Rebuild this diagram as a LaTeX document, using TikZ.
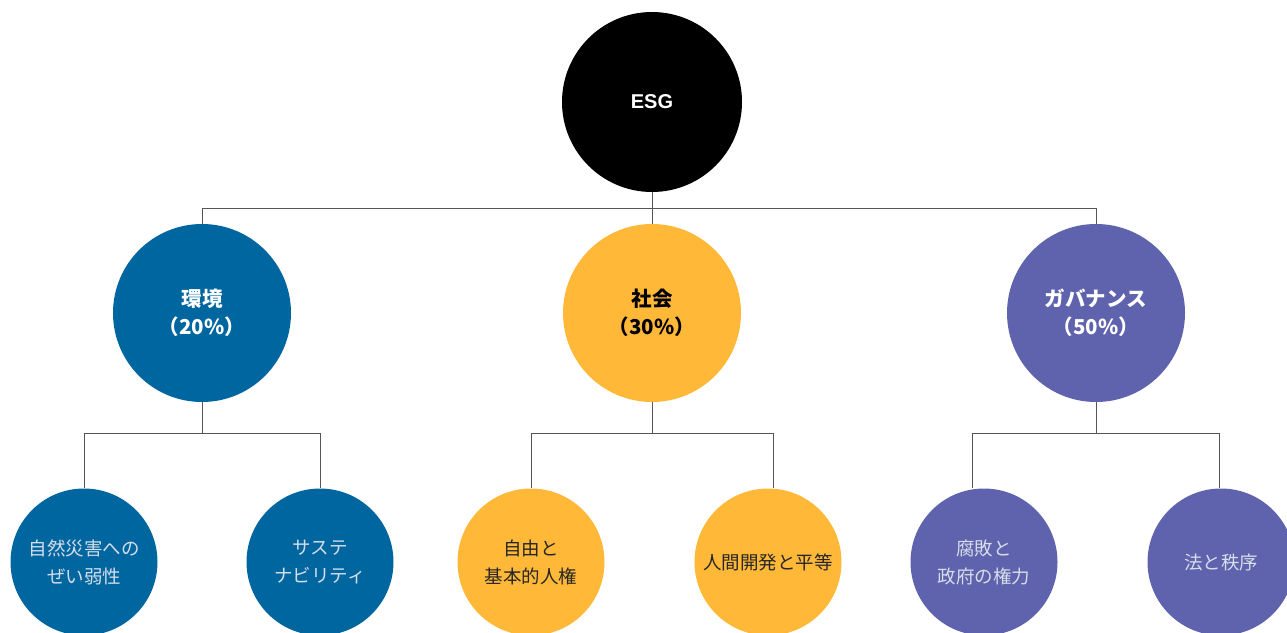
\documentclass[tikz,border=0pt]{standalone}
\usepackage{fontspec}
\setmainfont{Noto Sans CJK JP}
\newfontfamily\latinbold{Liberation Sans}[BoldFont={* Bold}]
\definecolor{esgblue}{HTML}{0066A0}
\definecolor{esgyellow}{HTML}{FFB838}
\definecolor{esgpurple}{HTML}{5F62AC}
\definecolor{linegray}{HTML}{555555}
\definecolor{lighttext}{HTML}{D6DEEA}
\begin{document}
\begin{tikzpicture}[x=1pt,y=-1pt,
  topnode/.style={circle,fill=black,minimum size=180pt,inner sep=0pt,text=white,font=\latinbold\bfseries\fontsize{20}{24}\selectfont},
  midnode/.style={circle,minimum size=178pt,inner sep=0pt,align=center,font=\bfseries\fontsize{20.5}{28}\selectfont},
  leafnode/.style={circle,minimum size=147pt,inner sep=0pt,align=center,font=\fontsize{18.5}{28}\selectfont},
  conn/.style={draw=linegray,line width=1pt}]
\useasboundingbox (0,0) rectangle (1287,632);
\clip (0,0) rectangle (1287,632);
% nodes
\node[topnode] (esg) at (652,102) {ESG};
\node[midnode,fill=esgblue,text=white] (env) at (202,313) {環境\\（20\%）};
\node[midnode,fill=esgyellow,text=black] (soc) at (652,313) {社会\\（30\%）};
\node[midnode,fill=esgpurple,text=white] (gov) at (1096,313) {ガバナンス\\（50\%）};
\node[leafnode,fill=esgblue,text=lighttext] (e1) at (84,562) {自然災害への\\ぜい弱性};
\node[leafnode,fill=esgblue,text=lighttext] (e2) at (320,562) {サステ\\ナビリティ};
\node[leafnode,fill=esgyellow,text=black!85] (s1) at (531,562) {自由と\\基本的人権};
\node[leafnode,fill=esgyellow,text=black!85] (s2) at (768,562) {人間開発と平等};
\node[leafnode,fill=esgpurple,text=lighttext] (g1) at (984,562) {腐敗と\\政府の権力};
\node[leafnode,fill=esgpurple,text=lighttext] (g2) at (1221,562) {法と秩序};
% connector junctions
\coordinate (j0) at (652,208);
\coordinate (je) at (202,433);
\coordinate (js) at (652,433);
\coordinate (jg) at (1096,433);
% top level
\draw[conn] (esg.south) -- (j0);
\draw[conn] (j0) -| (env.north);
\draw[conn] (j0) -- (soc.north);
\draw[conn] (j0) -| (gov.north);
% environment
\draw[conn] (env.south) -- (je);
\draw[conn] (je) -| (e1.north);
\draw[conn] (je) -| (e2.north);
% social
\draw[conn] (soc.south) -- (js);
\draw[conn] (js) -| (s1.north);
\draw[conn] (js) -| ([xshift=5pt]s2.north);
% governance
\draw[conn] (gov.south) -- (jg);
\draw[conn] (jg) -| ([xshift=-12pt]g1.north);
\draw[conn] (jg) -| ([xshift=-2pt]g2.north);
\end{tikzpicture}
\end{document}
